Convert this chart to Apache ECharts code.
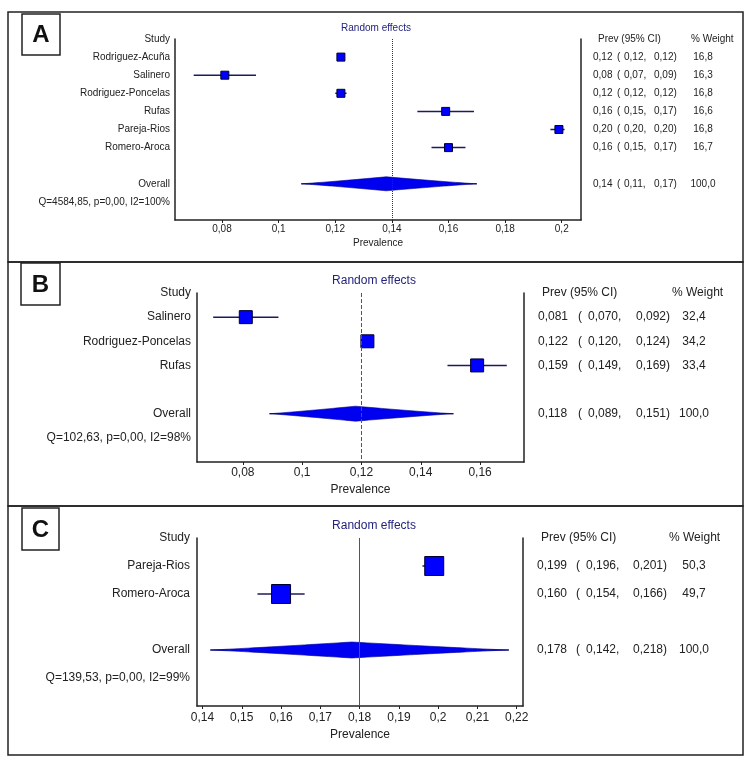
<!DOCTYPE html>
<html><head><meta charset="utf-8">
<script src="https://cdn.jsdelivr.net/npm/echarts@6/dist/echarts.min.js"></script>
<style>html,body{margin:0;padding:0;background:#fff}#c{width:754px;height:767px}</style>
</head><body><div id="c"></div>
<script>
// ---------- DATA ----------
// Panel A
const studiesA = ['Rodriguez-Acuña', 'Salinero', 'Rodriguez-Poncelas', 'Rufas', 'Pareja-Rios', 'Romero-Aroca'];
const prevA   = [0.122, 0.081, 0.122, 0.159, 0.199, 0.160];
const lowA    = [0.121, 0.070, 0.120, 0.149, 0.196, 0.154];
const highA   = [0.123, 0.092, 0.124, 0.169, 0.201, 0.166];
const weightA = [16.8, 16.3, 16.8, 16.6, 16.8, 16.7];
const overallA = [0.138, 0.108, 0.170, 100.0];
const hetA = 'Q=4584,85, p=0,00, I2=100%';
const ticksA = [0.08, 0.1, 0.12, 0.14, 0.16, 0.18, 0.2];

// Panel B
const studiesB = ['Salinero', 'Rodriguez-Poncelas', 'Rufas'];
const prevB   = [0.081, 0.122, 0.159];
const lowB    = [0.070, 0.120, 0.149];
const highB   = [0.092, 0.124, 0.169];
const weightB = [32.4, 34.2, 33.4];
const overallB = [0.118, 0.089, 0.151, 100.0];
const hetB = 'Q=102,63, p=0,00, I2=98%';
const ticksB = [0.08, 0.1, 0.12, 0.14, 0.16];

// Panel C
const studiesC = ['Pareja-Rios', 'Romero-Aroca'];
const prevC   = [0.199, 0.160];
const lowC    = [0.196, 0.154];
const highC   = [0.201, 0.166];
const weightC = [50.3, 49.7];
const overallC = [0.178, 0.142, 0.218, 100.0];
const hetC = 'Q=139,53, p=0,00, I2=99%';
const ticksC = [0.14, 0.15, 0.16, 0.17, 0.18, 0.19, 0.2, 0.21, 0.22];

const panels = [
  {letter: 'A', studies: studiesA, prev: prevA, low: lowA, high: highA, weight: weightA, overall: overallA, het: hetA, ticks: ticksA, decimals: 2},
  {letter: 'B', studies: studiesB, prev: prevB, low: lowB, high: highB, weight: weightB, overall: overallB, het: hetB, ticks: ticksB, decimals: 3},
  {letter: 'C', studies: studiesC, prev: prevC, low: lowC, high: highC, weight: weightC, overall: overallC, het: hetC, ticks: ticksC, decimals: 3}
];

// ---------- LAYOUT / STYLE ----------
const layouts = [
  {grid: {left: 175, top: 39, width: 406, height: 181}, xmin: 0.0634, xmax: 0.2068, fs: 10, sym: 8, dh: 7,
   lm: 5, rm: 12, cols: [24, 7, 30, 29, 40], h1: [93, 5], labelMargin: 4, nameGap: 18, ref: 'dotted', refColor: '#333',
   title: [376, 28], frame: [8, 12, 735, 250], box: [22, 14, 38, 41]},
  {grid: {left: 197, top: 293, width: 327, height: 169}, xmin: 0.06455, xmax: 0.1748, fs: 12, sym: 13, dh: 7.5,
   lm: 6, rm: 14, cols: [40, 10, 48, 38, 40], h1: [130, 4], labelMargin: 5, nameGap: 22, ref: 'dashed', refColor: '#555',
   title: [374, 281], frame: [8, 262, 735, 244], box: [21, 263, 39, 42]},
  {grid: {left: 197, top: 538, width: 326, height: 168}, xmin: 0.1386, xmax: 0.2216, fs: 12, sym: 19, dh: 8,
   lm: 7, rm: 14, cols: [39, 10, 47, 41, 40], h1: [128, 4], labelMargin: 6, nameGap: 23, ref: 'solid', refColor: '#555',
   title: [374, 526], frame: [8, 506, 735, 249], box: [22, 508, 37, 42]}
];

const FONT = '"Liberation Sans", Arial, sans-serif';
const TXT = '#222';
const comma = (s) => String(s).replace('.', ',');
const fmt = (v, d) => comma(v.toFixed(d));

const option = {
  animation: false,
  textStyle: {fontFamily: FONT},
  grid: [], xAxis: [], yAxis: [], series: [], graphic: []
};

panels.forEach((p, i) => {
  const L = layouts[i];
  const n = p.studies.length;
  const overallIdx = n + 2;
  const cats = ['Study'].concat(p.studies, ['', 'Overall', p.het, '']);
  option.grid.push(Object.assign({containLabel: false}, L.grid));

  option.xAxis.push({
    type: 'value', gridIndex: i, min: L.xmin, max: L.xmax,
    axisLine: {show: true, lineStyle: {color: TXT, width: 1.5}},
    axisTick: {show: true, length: 3, customValues: p.ticks, lineStyle: {color: TXT}},
    axisLabel: {customValues: p.ticks, formatter: (v) => comma(v), fontSize: L.fs, color: TXT, margin: L.labelMargin, fontFamily: FONT},
    splitLine: {show: false},
    name: 'Prevalence', nameLocation: 'middle', nameGap: L.nameGap,
    nameTextStyle: {fontSize: L.fs, color: TXT, fontFamily: FONT}
  });

  option.yAxis.push({
    type: 'category', gridIndex: i, inverse: true, boundaryGap: false, data: cats,
    axisLine: {show: true, lineStyle: {color: TXT, width: 1.5}},
    axisTick: {show: false}, splitLine: {show: false},
    axisLabel: {interval: 0, margin: L.lm, fontSize: L.fs, color: TXT, fontFamily: FONT}
  });

  const c = L.cols;
  const rich = {
    h1: {width: L.h1[0], padding: [0, 0, 0, L.h1[1]], fontSize: L.fs, color: TXT, fontFamily: FONT},
    h2: {fontSize: L.fs, color: TXT, fontFamily: FONT},
    p: {width: c[0], fontSize: L.fs, color: TXT, fontFamily: FONT},
    o: {width: c[1], fontSize: L.fs, color: TXT, fontFamily: FONT},
    l: {width: c[2], fontSize: L.fs, color: TXT, fontFamily: FONT},
    r: {width: c[3], fontSize: L.fs, color: TXT, fontFamily: FONT},
    w: {width: c[4], align: 'center', fontSize: L.fs, color: TXT, fontFamily: FONT}
  };
  const rowText = (pv, lo, hi, w) =>
    '{p|' + fmt(pv, p.decimals) + '}{o|(}{l|' + fmt(lo, p.decimals) + ',}{r|' + fmt(hi, p.decimals) + ')}{w|' + fmt(w, 1) + '}';
  option.yAxis.push({
    type: 'category', gridIndex: i, inverse: true, boundaryGap: false, data: cats, position: 'right',
    axisLine: {show: true, lineStyle: {color: TXT, width: 1.5}},
    axisTick: {show: false}, splitLine: {show: false},
    axisLabel: {
      interval: 0, margin: L.rm, fontSize: L.fs, color: TXT, rich: rich,
      formatter: (val, idx) => {
        if (idx === 0) return '{h1|Prev (95% CI)}{h2|% Weight}';
        if (idx >= 1 && idx <= n) return rowText(p.prev[idx - 1], p.low[idx - 1], p.high[idx - 1], p.weight[idx - 1]);
        if (idx === overallIdx) return rowText(p.overall[0], p.overall[1], p.overall[2], p.overall[3]);
        return '';
      }
    }
  });

  // reference line at the pooled estimate
  option.series.push({
    type: 'scatter', xAxisIndex: i, yAxisIndex: 2 * i, z: 1, symbolSize: 0,
    data: [[p.overall[0], overallIdx]], silent: true,
    markLine: {silent: true, symbol: 'none', label: {show: false},
      lineStyle: {color: L.refColor, type: L.ref, width: 1}, data: [{xAxis: p.overall[0]}]}
  });

  // CI whiskers + pooled diamond
  const ciData = p.studies.map((s, k) => [p.low[k], k + 1, p.high[k], p.prev[k], 0]);
  ciData.push([p.overall[1], overallIdx, p.overall[2], p.overall[0], 1]);
  const dh = L.dh;
  option.series.push({
    type: 'custom', xAxisIndex: i, yAxisIndex: 2 * i, z: 3, silent: true,
    encode: {x: [0, 2, 3], y: 1},
    data: ciData,
    renderItem: (params, api) => {
      const a = api.coord([api.value(0), api.value(1)]);
      const b = api.coord([api.value(2), api.value(1)]);
      const m = api.coord([api.value(3), api.value(1)]);
      const line = {type: 'line', shape: {x1: a[0], y1: a[1], x2: b[0], y2: b[1]},
        style: {stroke: '#1b1b5e', lineWidth: 1.5}};
      if (api.value(4) !== 1) return line;
      const N = 30, top = [], bot = [];
      for (let j = 0; j <= N; j++) {
        const t = j / N;
        const x = a[0] + (m[0] - a[0]) * t;
        const h = dh * Math.pow(t, 1.1);
        top.push([x, a[1] - h]); bot.push([x, a[1] + h]);
      }
      for (let j = 1; j <= N; j++) {
        const t = j / N;
        const x = m[0] + (b[0] - m[0]) * t;
        const h = dh * Math.pow(1 - t, 1.1);
        top.push([x, a[1] - h]); bot.push([x, a[1] + h]);
      }
      const pts = top.concat(bot.reverse());
      return {type: 'group', children: [
        {type: 'line', shape: {x1: a[0], y1: a[1], x2: b[0], y2: b[1]}, style: {stroke: '#1b1b5e', lineWidth: 1}},
        {type: 'polygon', shape: {points: pts}, style: {fill: '#0000f0', stroke: '#00008a', lineWidth: 0.6}}
      ]};
    }
  });

  // study point estimates
  option.series.push({
    type: 'scatter', xAxisIndex: i, yAxisIndex: 2 * i, z: 4, silent: true,
    symbol: 'rect', symbolSize: L.sym,
    itemStyle: {color: '#0000ff', borderColor: '#000033', borderWidth: 1, opacity: 1},
    data: p.studies.map((s, k) => [p.prev[k], k + 1])
  });

  // frames, letter boxes, titles
  const f = L.frame, bx = L.box;
  option.graphic.push(
    {type: 'rect', shape: {x: f[0], y: f[1], width: f[2], height: f[3]}, style: {fill: 'none', stroke: '#222', lineWidth: 1.5}, silent: true},
    {type: 'rect', shape: {x: bx[0], y: bx[1], width: bx[2], height: bx[3]}, style: {fill: '#fff', stroke: '#222', lineWidth: 1.5}, silent: true},
    {type: 'text', x: bx[0] + bx[2] / 2, y: bx[1] + bx[3] / 2 + 1, silent: true,
     style: {text: p.letter, align: 'center', verticalAlign: 'middle', font: 'bold 24px ' + FONT, fill: '#111'}},
    {type: 'text', x: L.title[0], y: L.title[1], silent: true,
     style: {text: 'Random effects', align: 'center', verticalAlign: 'middle', font: L.fs + 'px ' + FONT, fill: '#23237e'}}
  );
});

const chart = echarts.init(document.getElementById('c'), null, {renderer: 'canvas'});
chart.setOption(option);
</script>
</body></html>
